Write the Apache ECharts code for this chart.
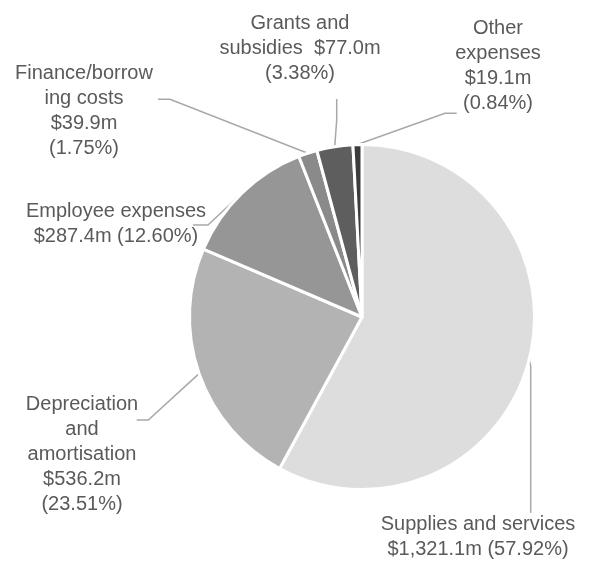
<!DOCTYPE html>
<html>
<head>
<meta charset="utf-8">
<script src="https://cdn.jsdelivr.net/npm/echarts@6/dist/echarts.min.js"></script>
<style>
  html, body { margin: 0; padding: 0; background: #fff; }
  #chart { width: 592px; height: 563px; }
</style>
</head>
<body>
<div id="chart"></div>
<script>
// 费用构成 (m)
const categories = ['Supplies and services', 'Depreciation\nand\namortisation', 'Employee expenses',
  'Finance/borrow\ning costs', 'Grants and\nsubsidies', 'Other\nexpenses']
const amounts = [1321.1, 536.2, 287.4, 39.9, 77.0, 19.1]

// 每块的颜色
const sliceColors = ['#dddddd', '#b3b3b3', '#969696', '#8a8a8a', '#5e5e5e', '#3c3c3c']

// 标签换行方式: [名称后, 金额后]
const joins = [['\n', ' '], ['\n', '\n'], ['\n', ' '], ['\n', '\n'], ['  ', '\n'], ['\n', '\n']]
// 标签中心位置
const labelPos = [[478, 537], [82, 454], [116, 224], [84, 111], [300, 48], [498, 66]]
// 引导线的拐点 (起点由图表给出)
const linePts = [
  [[530.7, 366], [530.7, 512.7]],
  [[148.3, 420], [136.7, 420]],
  [[208, 225], [193, 225]],
  [[170, 99.3], [158, 99.3]],
  [[336.7, 120], [336.7, 99]],
  [[445, 113.3], [456.7, 113.3]]
]

const fmtMoney = (v) => '$' + v.toLocaleString('en-US', { minimumFractionDigits: 1, maximumFractionDigits: 1 }) + 'm'

const drawPie = () => {
  const chart = echarts.init(document.getElementById('chart'))
  const option = {
    animation: false,
    color: sliceColors,
    series: [
      {
        type: 'pie',
        center: [362, 317],
        radius: 172.5,
        startAngle: 90,
        clockwise: true,
        avoidLabelOverlap: false,
        percentPrecision: 2,
        itemStyle: {
          borderColor: '#ffffff',
          borderWidth: 3
        },
        label: {
          show: true,
          position: 'outside',
          color: '#5a5a5a',
          fontFamily: 'Liberation Sans, Arial, sans-serif',
          fontSize: 20,
          lineHeight: 25,
          align: 'center',
          formatter(params) {
            const j = joins[params.dataIndex]
            return params.name + j[0] + fmtMoney(params.value) + j[1] + '(' + params.percent.toFixed(2) + '%)'
          }
        },
        labelLine: {
          show: true,
          lineStyle: {
            color: '#a8a8a8',
            width: 1.5
          }
        },
        labelLayout(params) {
          const i = params.dataIndex
          const p0 = params.labelLinePoints ? params.labelLinePoints[0] : linePts[i][0]
          return {
            x: labelPos[i][0],
            y: labelPos[i][1],
            align: 'center',
            verticalAlign: 'middle',
            labelLinePoints: [p0].concat(linePts[i])
          }
        },
        emphasis: { disabled: true },
        data: categories.map((name, i) => ({ name, value: amounts[i] }))
      }
    ]
  }
  chart.setOption(option)
}

drawPie()
</script>
</body>
</html>
